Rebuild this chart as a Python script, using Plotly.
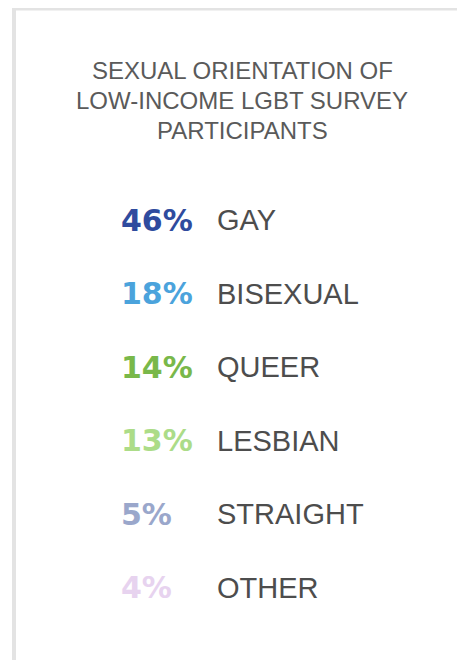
import plotly.graph_objects as go

# ---- data ----
categories = ["GAY", "BISEXUAL", "QUEER", "LESBIAN", "STRAIGHT", "OTHER"]
percents = [46, 18, 14, 13, 5, 4]
colors = ["#2f4b9e", "#4ba3dc", "#79b84a", "#acdc88", "#9aa7cb", "#e7d3ef"]
title_lines = ["SEXUAL ORIENTATION OF", "LOW-INCOME LGBT SURVEY", "PARTICIPANTS"]

# page body has an 8px margin, so the figure is drawn 8px in from the window
W, H = 457, 652
row_index = list(range(len(categories)))

fig = go.Figure()

# percentage column
fig.add_trace(go.Scatter(
    x=[0] * len(categories), y=row_index, mode="text",
    text=[f"{p}%" for p in percents], textposition="middle right",
    textfont=dict(family="DejaVu Sans", size=30, color=colors, weight="bold"),
    hoverinfo="skip", showlegend=False, cliponaxis=False,
))
# label column
fig.add_trace(go.Scatter(
    x=[1] * len(categories), y=row_index, mode="text",
    text=categories, textposition="middle right",
    textfont=dict(family="Liberation Sans", size=29, color="#4d4d4d"),
    hoverinfo="skip", showlegend=False, cliponaxis=False,
))

# axes: column x positions (px) and row spacing (px)
x0_px, x1_px = 113, 209
sx = (x1_px - x0_px)
x_range = [-x0_px / sx, (W - x0_px) / sx]
row0_px, step_px = 215, 73.5
y_range = [(H - row0_px) / step_px, (0 - row0_px) / step_px]

fig.update_xaxes(range=x_range, visible=False, fixedrange=True)
fig.update_yaxes(range=y_range, visible=False, fixedrange=True)

# title lines
for i, line in enumerate(title_lines):
    fig.add_annotation(
        x=234 / W, y=1 - (62 + 30.3 * i) / H, xref="paper", yref="paper",
        text=line, showarrow=False, xanchor="center", yanchor="middle",
        font=dict(family="Liberation Sans", size=24, color="#5a5a5a"),
    )

# card border (top and left)
fig.add_shape(type="rect", xref="paper", yref="paper",
              x0=4 / W, x1=1, y0=1 - 2.5 / H, y1=1,
              line=dict(width=0), fillcolor="#e3e3e3", layer="below")
fig.add_shape(type="rect", xref="paper", yref="paper",
              x0=4 / W, x1=8 / W, y0=0, y1=1,
              line=dict(width=0), fillcolor="#e3e3e3", layer="below")

fig.update_layout(
    width=W, height=H, margin=dict(l=0, r=0, t=0, b=0),
    paper_bgcolor="white", plot_bgcolor="white",
)

fig.write_html("out.html")
